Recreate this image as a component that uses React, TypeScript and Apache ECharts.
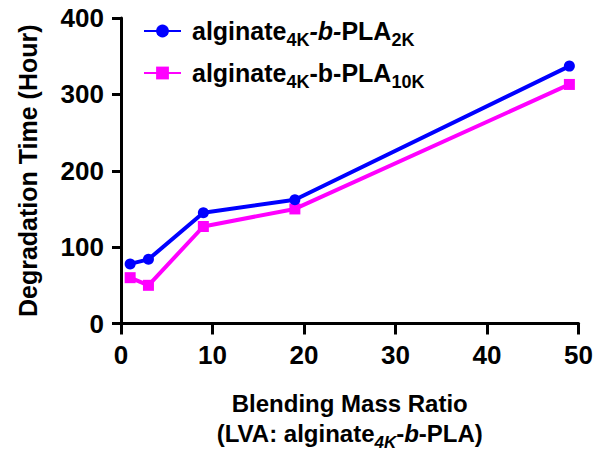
import React, { useEffect, useRef } from "react";
import * as echarts from "echarts";

const xValues = [1, 3, 9, 19, 49];
const seriesA = [78, 84, 145, 162, 337];
const seriesB = [60, 50, 127, 150, 313];
const nameA = "alginate4K-b-PLA2K";
const nameB = "alginate4K-b-PLA10K";
const xTitle1 = "Blending Mass Ratio";
const yTitle = "Degradation Time (Hour)";

const FONT = "'Liberation Sans', Arial, Helvetica, sans-serif";

export default function App() {
  const ref = useRef<HTMLDivElement>(null);
  useEffect(() => {
    if (!ref.current) return;
    document.body.style.margin = "0";
    const chart = echarts.init(ref.current, null, { renderer: "svg" });
    const richBase = {
      a: { fontSize: 25, fontWeight: "bold", fontFamily: FONT, color: "#000", lineHeight: 28 },
      i: { fontSize: 25, fontWeight: "bold", fontStyle: "italic", fontFamily: FONT, color: "#000", lineHeight: 28 },
      s: { fontSize: 18, fontWeight: "bold", fontFamily: FONT, color: "#000", lineHeight: 28, padding: [18, 0, 0, 0] },
    };
    chart.setOption({
      animation: false,
      backgroundColor: "#fff",
      grid: { left: 121, right: 13, top: 18, bottom: 121, containLabel: false },
      legend: {
        orient: "vertical",
        left: 143,
        top: 13,
        padding: 0,
        itemWidth: 37,
        itemHeight: 16,
        itemGap: 6,
        textStyle: { padding: [0, 0, 0, 6], height: 28, lineHeight: 28, rich: richBase },
        formatter: (n: string) =>
          n === nameA
            ? "{a|alginate}{s|4K}{i|-b-}{a|PLA}{s|2K}"
            : "{a|alginate}{s|4K}{a|-b-PLA}{s|10K}",
        data: [nameA, nameB],
      },
      xAxis: {
        type: "value",
        min: 0,
        max: 50,
        interval: 10,
        splitLine: { show: false },
        axisLine: { show: true, onZero: false, lineStyle: { color: "#000", width: 3 } },
        axisTick: { show: true, length: 11, lineStyle: { color: "#000", width: 3 } },
        axisLabel: { fontSize: 26, fontWeight: "bold", fontFamily: FONT, color: "#000", margin: 18 },
        name: "{t|" + xTitle1 + "}\n{t|(LVA: alginate}{s|4K}{t|-}{i|b}{t|-PLA)}",
        nameLocation: "middle",
        nameGap: 65,
        nameTextStyle: {
          rich: {
            t: { fontSize: 24, fontWeight: "bold", fontFamily: FONT, color: "#000", lineHeight: 30 },
            i: { fontSize: 24, fontWeight: "bold", fontStyle: "italic", fontFamily: FONT, color: "#000", lineHeight: 30 },
            s: { fontSize: 17, fontWeight: "bold", fontStyle: "italic", fontFamily: FONT, color: "#000", lineHeight: 30, padding: [18, 0, 0, 0] },
          },
        },
      },
      yAxis: {
        type: "value",
        min: 0,
        max: 400,
        interval: 100,
        splitLine: { show: false },
        axisLine: { show: true, lineStyle: { color: "#000", width: 3 } },
        axisTick: { show: true, length: 9, lineStyle: { color: "#000", width: 3 } },
        axisLabel: { fontSize: 26, fontWeight: "bold", fontFamily: FONT, color: "#000", margin: 17 },
        name: yTitle,
        nameLocation: "middle",
        nameGap: 81,
        nameTextStyle: { fontSize: 25, fontWeight: "bold", fontFamily: FONT, color: "#000" },
      },
      series: [
        {
          name: nameA,
          type: "line",
          data: xValues.map((x, k) => [x, seriesA[k]]),
          symbol: "circle",
          symbolSize: 11,
          lineStyle: { color: "#0000ff", width: 4 },
          itemStyle: { color: "#0000ff" },
          z: 3,
        },
        {
          name: nameB,
          type: "line",
          data: xValues.map((x, k) => [x, seriesB[k]]),
          symbol: "rect",
          symbolSize: 11,
          lineStyle: { color: "#ff00ff", width: 4 },
          itemStyle: { color: "#ff00ff" },
          z: 2,
        },
      ],
    });
    return () => chart.dispose();
  }, []);
  return <div ref={ref} style={{ width: 596, height: 456 }} />;
}
